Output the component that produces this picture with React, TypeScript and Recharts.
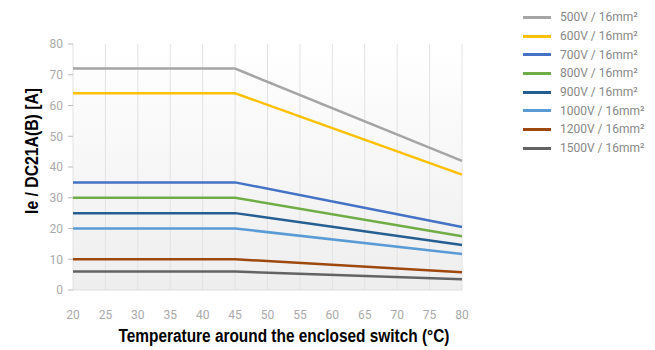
import React from "react";
import { LineChart, Line, XAxis, YAxis, CartesianGrid } from "recharts";

const temps = [20, 45, 80];
const v500 = [72, 72, 42];
const v600 = [64, 64, 37.5];
const v700 = [35, 35, 20.5];
const v800 = [30, 30, 17.5];
const v900 = [25, 25, 14.6];
const v1000 = [20, 20, 11.7];
const v1200 = [10, 10, 5.8];
const v1500 = [6, 6, 3.5];

const xTicks = [20, 25, 30, 35, 40, 45, 50, 55, 60, 65, 70, 75, 80];
const yTicks = [0, 10, 20, 30, 40, 50, 60, 70, 80];

const xTitle = "Temperature around the enclosed switch (°C)";
const yTitle = "Ie / DC21A(B) [A]";

const series = [
  { key: "s500", name: "500V / 16mm²", values: v500, color: "#A5A5A5" },
  { key: "s600", name: "600V / 16mm²", values: v600, color: "#FFC000" },
  { key: "s700", name: "700V / 16mm²", values: v700, color: "#4472C4" },
  { key: "s800", name: "800V / 16mm²", values: v800, color: "#70AD47" },
  { key: "s900", name: "900V / 16mm²", values: v900, color: "#255E91" },
  { key: "s1000", name: "1000V / 16mm²", values: v1000, color: "#5B9BD5" },
  { key: "s1200", name: "1200V / 16mm²", values: v1200, color: "#9E480E" },
  { key: "s1500", name: "1500V / 16mm²", values: v1500, color: "#636363" },
];

const data = temps.map((t, i) => {
  const row: any = { t };
  series.forEach((s) => (row[s.key] = s.values[i]));
  return row;
});

const tickStyle = { fill: "#aaaaaa", fontSize: 12, fontFamily: "Roboto, 'Liberation Sans', sans-serif" };
const titleFont = "'Liberation Sans', Arial, sans-serif";

const XTitle = (props: any) => {
  const vb = props.viewBox || {};
  const cx = 284;
  const y = (vb.y || 290) + 52;
  return (
    <text x={cx} y={y} textAnchor="middle" fontSize={18} fontWeight={700} fontFamily={titleFont}
      fill="#000" textLength={331} lengthAdjust="spacingAndGlyphs">
      {xTitle}
    </text>
  );
};

const YTitle = () => {
  const cx = 38;
  const cy = 151;
  return (
    <text x={cx} y={cy} transform={`rotate(-90 ${cx} ${cy})`} textAnchor="middle" fontSize={18}
      fontWeight={700} fontFamily={titleFont} fill="#000" textLength={126} lengthAdjust="spacingAndGlyphs">
      {yTitle}
    </text>
  );
};

const LegendBox = () => (
  <div style={{ position: "absolute", left: 523, top: 8, fontFamily: "Roboto, 'Liberation Sans', sans-serif" }}>
    {series.map((s) => (
      <div key={s.key} style={{ display: "flex", alignItems: "center", height: 18.7 }}>
        <div style={{ width: 28, height: 3, background: s.color, marginRight: 9 }} />
        <span style={{ fontSize: 12, color: "#888888" }}>{s.name}</span>
      </div>
    ))}
  </div>
);

export default function App() {
  return (
    <div style={{ position: "absolute", left: 0, top: 0, width: 655, height: 350, background: "#fff" }}>
      <LineChart width={655} height={350} data={data} margin={{ top: 44, right: 193, left: 0, bottom: 0 }}>
        <defs>
          <linearGradient id="bgGrad" x1="0" y1="0" x2="0" y2="1">
            <stop offset="0%" stopColor="#ffffff" />
            <stop offset="100%" stopColor="#eeeeee" />
          </linearGradient>
        </defs>
        <CartesianGrid horizontal={false} vertical={true} stroke="#e2e2e2" fill="url(#bgGrad)" />
        <XAxis
          dataKey="t"
          type="number"
          domain={[20, 80]}
          ticks={xTicks}
          interval={0}
          tickLine={false}
          axisLine={{ stroke: "#dddddd" }}
          tick={tickStyle}
          tickMargin={14}
          height={60}
          label={<XTitle />}
        />
        <YAxis
          type="number"
          domain={[0, 80]}
          ticks={yTicks}
          interval={0}
          axisLine={false}
          tickLine={{ stroke: "#bbbbbb" }}
          tickSize={5}
          tickMargin={5}
          tick={tickStyle}
          width={73}
          label={<YTitle />}
        />
        {series.map((s) => (
          <Line
            key={s.key}
            dataKey={s.key}
            name={s.name}
            stroke={s.color}
            strokeWidth={2.5}
            dot={false}
            type="linear"
            isAnimationActive={false}
          />
        ))}
      </LineChart>
      <LegendBox />
    </div>
  );
}
